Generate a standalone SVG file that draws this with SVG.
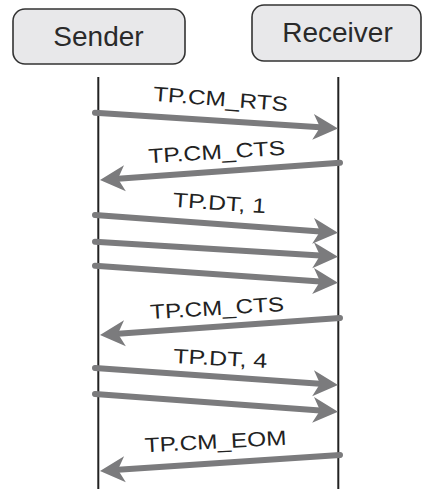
<svg xmlns="http://www.w3.org/2000/svg" width="424" height="489" viewBox="0 0 424 489">
  <style>
    .box { fill: #e8e8ea; stroke: #333; stroke-width: 1.6; }
    .title { font-family: "Liberation Sans", Arial, sans-serif; font-size: 28px; fill: #2a2a2a; text-anchor: middle; }
    .life { stroke: #222; stroke-width: 2; }
    .msg { stroke: #7b7b7d; stroke-width: 6; stroke-linecap: round; fill: none; marker-end: url(#head); }
    .lbl { font-family: "Liberation Sans", Arial, sans-serif; font-size: 20.5px; fill: #222; text-anchor: middle; }
  </style>
  <defs>
    <!-- notched arrowhead; the line ends at the notch (refX=7), tip lies 18 units further -->
    <marker id="head" markerUnits="userSpaceOnUse" markerWidth="26" markerHeight="26" viewBox="0 -13 26 26" refX="7" refY="0" orient="auto" overflow="visible">
      <path d="M0,-13 L25,0 L0,13 L7,0 Z" fill="#7b7b7d"/>
    </marker>
  </defs>

  <g id="sender">
    <rect class="box" x="13" y="9" width="172" height="55" rx="12"/>
    <text class="title" x="98.5" y="45.5">Sender</text>
  </g>
  <g id="receiver">
    <rect class="box" x="252" y="5" width="169" height="56" rx="12"/>
    <text class="title" x="337.5" y="41.5">Receiver</text>
  </g>

  <g id="lifelines">
    <line class="life" x1="98.3" y1="77" x2="98.3" y2="489"/>
    <line class="life" x1="338.3" y1="77" x2="338.3" y2="489"/>
  </g>

  <g id="connectors">
    <line class="msg" x1="95" y1="112.7" x2="320.04" y2="127.33"/>
    <line class="msg" x1="340" y1="162.7" x2="117.95" y2="178.71"/>
    <line class="msg" x1="95" y1="215" x2="320.05" y2="231.39"/>
    <line class="msg" x1="95" y1="241.7" x2="320.03" y2="255.59"/>
    <line class="msg" x1="95" y1="265.7" x2="320.04" y2="281.44"/>
    <line class="msg" x1="340" y1="318" x2="117.96" y2="333.73"/>
    <line class="msg" x1="95" y1="368" x2="320.04" y2="383.74"/>
    <line class="msg" x1="95" y1="394" x2="320.05" y2="410.39"/>
    <line class="msg" x1="340" y1="455" x2="117.96" y2="469.8"/>
  </g>

  <g id="labels">
    <text class="lbl" x="220" y="106" textLength="135" lengthAdjust="spacingAndGlyphs" transform="rotate(4.5 220 106)">TP.CM_RTS</text>
    <text class="lbl" x="217" y="159" textLength="137" lengthAdjust="spacingAndGlyphs" transform="rotate(-3.6 217 159)">TP.CM_CTS</text>
    <text class="lbl" x="219" y="210" textLength="93" lengthAdjust="spacingAndGlyphs" transform="rotate(4 219 210)">TP.DT, 1</text>
    <text class="lbl" x="217.5" y="315" textLength="134" lengthAdjust="spacingAndGlyphs" transform="rotate(-3.5 217.5 315)">TP.CM_CTS</text>
    <text class="lbl" x="220" y="365.5" textLength="94" lengthAdjust="spacingAndGlyphs" transform="rotate(3 220 365.5)">TP.DT, 4</text>
    <text class="lbl" x="216" y="448.5" textLength="142" lengthAdjust="spacingAndGlyphs" transform="rotate(-3 216 448.5)">TP.CM_EOM</text>
  </g>
</svg>
